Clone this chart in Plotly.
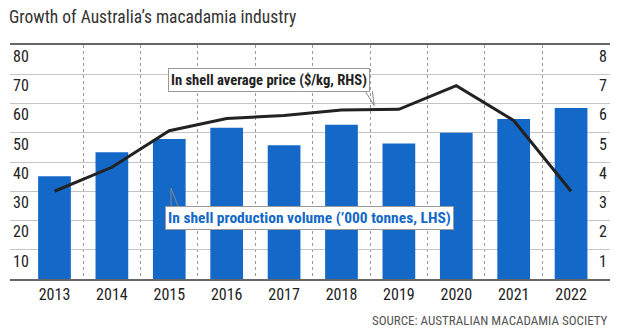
import plotly.graph_objects as go

years = ["2013", "2014", "2015", "2016", "2017", "2018", "2019", "2020", "2021", "2022"]
volume = [35.1, 43.3, 47.9, 51.7, 45.7, 52.7, 46.3, 50.0, 54.7, 58.5]   # '000 tonnes, LHS
price = [3.0, 3.82, 5.07, 5.49, 5.59, 5.78, 5.80, 6.61, 5.42, 3.0]        # $/kg, RHS
left_ticks = [10, 20, 30, 40, 50, 60, 70, 80]
right_ticks = [1, 2, 3, 4, 5, 6, 7, 8]

idx = list(range(len(years)))
NARROW = "Liberation Sans Narrow, Roboto Condensed, Arial Narrow, Liberation Sans, sans-serif"

fig = go.Figure()
fig.add_trace(go.Bar(x=idx, y=volume, width=0.57, marker=dict(color="#1468c8", line=dict(width=0)),
                     yaxis="y", showlegend=False, hoverinfo="skip"))
fig.add_trace(go.Scatter(x=idx, y=price, mode="lines", line=dict(color="#222222", width=3),
                         yaxis="y2", showlegend=False, hoverinfo="skip"))

fig.update_layout(
    width=620, height=332,
    margin=dict(l=10, r=10, t=45, b=53),
    paper_bgcolor="white", plot_bgcolor="white",
    title=dict(text="Growth of Australia\u2019s macadamia industry", x=9/620, xanchor="left",
               y=1-17/332, yanchor="middle", font=dict(family=NARROW, size=17.5, color="#333333")),
    xaxis=dict(range=[-0.775, 9.678], tickmode="array", tickvals=idx, ticktext=years,
               showgrid=False, zeroline=False, ticks="",
               showline=True, linecolor="#666666", linewidth=1.5, mirror=True,
               tickfont=dict(family=NARROW, size=16, color="#222222"),
               minor=dict(tickmode="array", tickvals=[i + 0.5 for i in idx[:-1]], showgrid=True,
                          gridcolor="#9a9a9a", griddash="dot", gridwidth=1, ticks="")),
    yaxis=dict(range=[0, 80], tickmode="array", tickvals=left_ticks, showgrid=True,
               gridcolor="#c4c4c4", gridwidth=1, zeroline=False, ticks="",
               ticklabelposition="inside bottom",
               tickfont=dict(family=NARROW, size=16, color="#222222")),
    yaxis2=dict(range=[0, 8], tickmode="array", tickvals=right_ticks, overlaying="y", side="right",
                showgrid=False, zeroline=False, ticks="", ticklabelposition="inside bottom",
                tickfont=dict(family=NARROW, size=16, color="#222222")),
)

# callout pointers
for ax in (-10, -2):
    fig.add_annotation(x=5.57, y=5.93, xref="x", yref="y2", text="", showarrow=True,
                       arrowhead=0, arrowwidth=1, arrowcolor="#888888", ax=ax, ay=-16)
for ax in (0, 8):
    fig.add_annotation(x=2.03, y=31.0, xref="x", yref="y", text="", showarrow=True,
                       arrowhead=0, arrowwidth=1, arrowcolor="#888888", ax=ax, ay=20)

fig.add_annotation(x=3.74, y=6.82, xref="x", yref="y2", showarrow=False,
                   text="<b>In shell average price ($/kg, RHS)</b>",
                   font=dict(family=NARROW, size=14.6, color="#222222"),
                   bgcolor="white", bordercolor="#999999", borderwidth=1, borderpad=2)
fig.add_annotation(x=4.45, y=20.7, xref="x", yref="y", showarrow=False,
                   text="<b>In shell production volume (\u2019000 tonnes, LHS)</b>",
                   font=dict(family=NARROW, size=15.5, color="#1468c8"),
                   bgcolor="white", bordercolor="#999999", borderwidth=1, borderpad=2)

fig.add_annotation(x=1, y=-(320-278.7)/234, xref="paper", yref="paper", xanchor="right", yanchor="middle",
                   showarrow=False, text="SOURCE: AUSTRALIAN MACADAMIA SOCIETY",
                   font=dict(family=NARROW, size=13, color="#555555"))

fig.write_html("out.html")
